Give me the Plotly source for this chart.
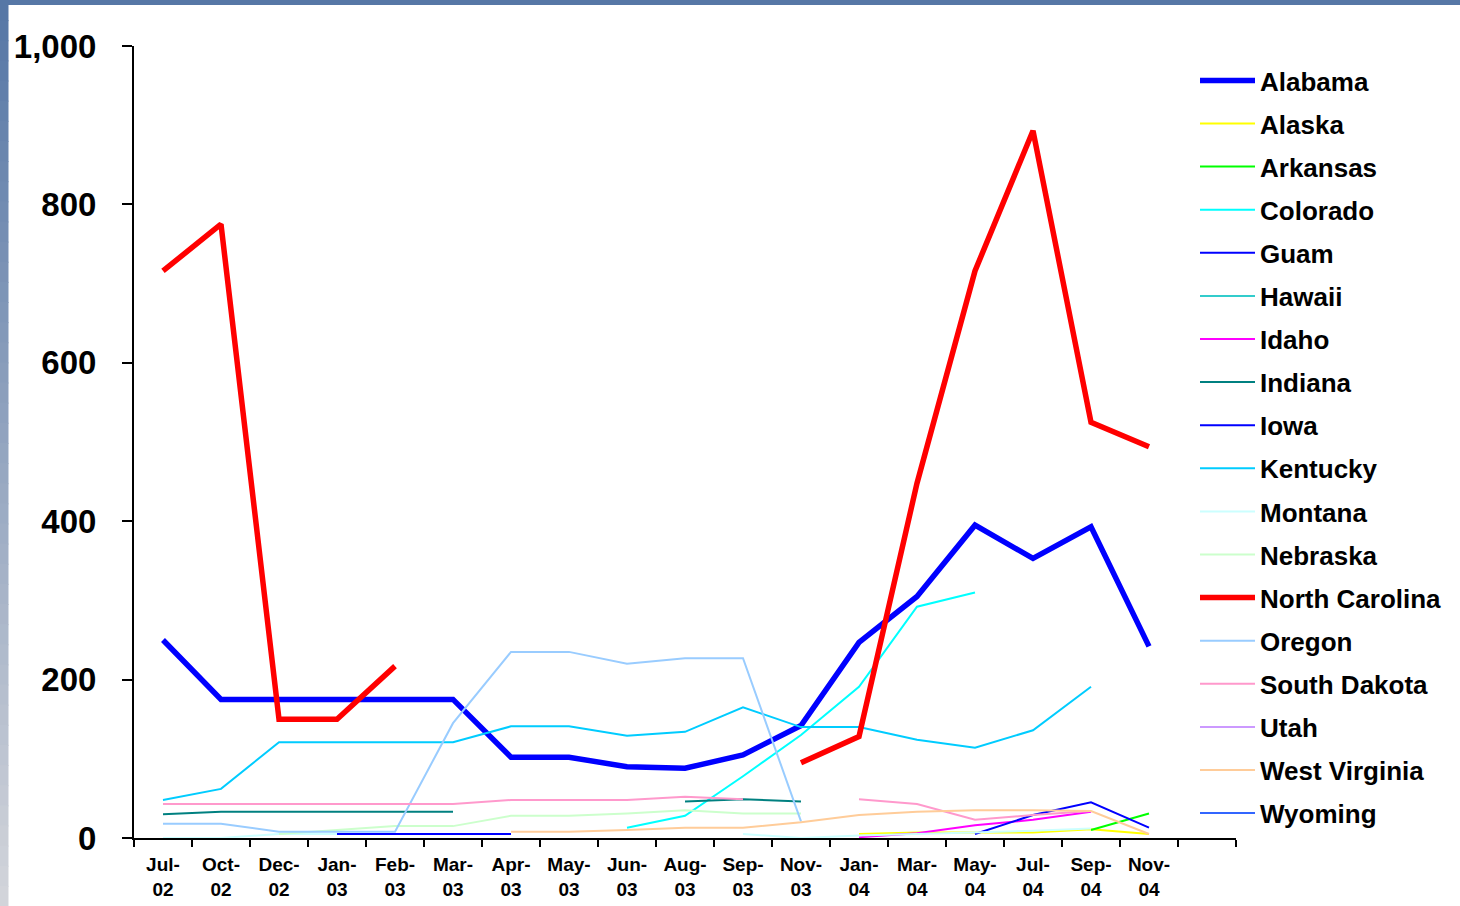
import plotly.graph_objects as go

months = ["Jul-<br>02", "Oct-<br>02", "Dec-<br>02", "Jan-<br>03", "Feb-<br>03", "Mar-<br>03",
          "Apr-<br>03", "May-<br>03", "Jun-<br>03", "Aug-<br>03", "Sep-<br>03", "Nov-<br>03",
          "Jan-<br>04", "Mar-<br>04", "May-<br>04", "Jul-<br>04", "Sep-<br>04", "Nov-<br>04"]
axis_categories = months + [" "]

N = None
alabama = [250, 175, 175, 175, 175, 175, 102, 102, 90, 88, 105, 142, 247, 305, 395, 353, 393, 242]
alaska = [N, N, N, N, N, N, N, N, N, N, N, N, 5, 7, 7, 7, 11, 5]
arkansas = [N, N, N, N, N, N, N, N, N, N, N, N, N, N, N, N, 10, 31]
colorado = [N, N, N, N, N, N, N, N, 13, 28, 78, 130, 191, 292, 310, N, N, N]
guam = [N, N, 5, 5, 5, 5, 5, N, N, N, N, N, N, N, N, N, N, N]
hawaii = [N] * 18
idaho = [N, N, N, N, N, N, N, N, N, N, N, N, 1, 6, 16, 23, 33, N]
indiana = [30, 33, 33, 33, 33, 33, N, N, N, 46, 49, 46, N, N, N, N, N, N]
iowa = [N, N, N, N, N, N, N, N, N, N, N, N, N, N, 5, 29, 45, 13]
kentucky = [48, 62, 121, 121, 121, 121, 141, 141, 129, 134, 165, 140, 140, 124, 114, 136, 191, N]
montana = [0, 0, 5, 5, N, N, N, N, N, N, 5, 0, 3, 5, 7, 9, 12, N]
nebraska = [N, N, 5, 10, 15, 15, 28, 28, 31, 35, 31, 31, N, N, N, N, N, N]
north_carolina = [716, 775, 150, 150, 217, N, N, N, N, N, N, 95, 128, 448, 716, 893, 525, 494]
oregon = [18, 18, 8, 8, 8, 145, 235, 235, 220, 227, 227, 21, N, N, N, N, N, N]
south_dakota = [43, 43, 43, 43, 43, 43, 48, 48, 48, 52, 49, N, 49, 43, 23, 29, 34, N]
utah = [N] * 18
west_virginia = [N, N, N, N, N, N, 8, 8, 10, 13, 13, 20, 29, 33, 35, 35, 34, 5]
wyoming = [N] * 18

series = [
    ("Alabama", alabama, "#0000FF", 5.5),
    ("Alaska", alaska, "#FFFF00", 2),
    ("Arkansas", arkansas, "#00FF00", 2),
    ("Colorado", colorado, "#00FFFF", 2),
    ("Guam", guam, "#0000FF", 2),
    ("Hawaii", hawaii, "#33CCCC", 2),
    ("Idaho", idaho, "#FF00FF", 2),
    ("Indiana", indiana, "#008080", 2),
    ("Iowa", iowa, "#0000FF", 2),
    ("Kentucky", kentucky, "#00CCFF", 2),
    ("Montana", montana, "#CCFFFF", 2),
    ("Nebraska", nebraska, "#CCFFCC", 2),
    ("North Carolina", north_carolina, "#FF0000", 5.5),
    ("Oregon", oregon, "#99CCFF", 2),
    ("South Dakota", south_dakota, "#FF99CC", 2),
    ("Utah", utah, "#CC99FF", 2),
    ("West Virginia", west_virginia, "#FFCC99", 2),
    ("Wyoming", wyoming, "#3366FF", 2),
]

fig = go.Figure()
for name, vals, color, w in series:
    fig.add_trace(go.Scatter(
        x=months, y=vals, name=name, mode="lines",
        line=dict(color=color, width=w),
        connectgaps=False, legendgroup=name,
    ))

W, H = 1460, 906
L, R, T, B = 134, 1236, 46, 838
pw, ph = R - L, B - T

def px(x):
    return (x - L) / pw

def py(y):
    return (B - y) / ph

shapes = []
# top bar
shapes.append(dict(type="rect", xref="paper", yref="paper", x0=px(0), x1=px(W), y0=py(5), y1=py(0),
                   fillcolor="#5677A6", line=dict(width=0), layer="above"))
# left gradient bar
top_c = (0x56, 0x77, 0xA6)
bot_c = (0xD2, 0xD4, 0xDA)
n = 45
for i in range(n):
    t = i / (n - 1)
    c = tuple(int(round(a + (b - a) * t)) for a, b in zip(top_c, bot_c))
    y0 = i * H / n
    y1 = (i + 1) * H / n + 1
    shapes.append(dict(type="rect", xref="paper", yref="paper", x0=px(0), x1=px(8.5),
                       y0=py(min(y1, H)), y1=py(y0),
                       fillcolor="rgb(%d,%d,%d)" % c, line=dict(width=0), layer="above"))

FONT = "Liberation Sans, Arial, sans-serif"

fig.update_layout(
    width=W, height=H,
    margin=dict(l=L, r=W - R, t=T, b=H - B, pad=0),
    paper_bgcolor="white", plot_bgcolor="white",
    font=dict(family=FONT, color="black"),
    showlegend=True,
    legend=dict(
        x=px(1447), y=py(57), xanchor="right", yanchor="top",
        font=dict(size=26, family=FONT, color="black", weight="bold"),
        traceorder="grouped", tracegroupgap=6.3, itemwidth=55,
        bgcolor="rgba(0,0,0,0)", borderwidth=0,
    ),
    xaxis=dict(
        type="category", categoryorder="array", categoryarray=axis_categories,
        range=[-0.5, len(axis_categories) - 0.5], automargin=False,
        showline=True, linecolor="black", linewidth=2,
        ticks="outside", tickson="boundaries", ticklen=7, tickwidth=2, tickcolor="black",
        showgrid=False, zeroline=False, ticklabelstandoff=8,
        tickfont=dict(size=19, family=FONT, color="black", weight="bold"),
        tickangle=0,
    ),
    yaxis=dict(
        range=[0, 1000], tickvals=[0, 200, 400, 600, 800, 1000], tickformat=",",
        automargin=False,
        showline=True, linecolor="black", linewidth=2,
        ticks="outside", ticklen=10, tickwidth=2, tickcolor="black",
        showgrid=False, zeroline=False, ticklabelstandoff=19,
        tickfont=dict(size=33, family=FONT, color="black", weight="bold"),
    ),
    shapes=shapes,
)

fig.write_html("out.html", config={"displayModeBar": False},
               post_script="document.body.style.margin='0';document.body.style.overflow='hidden';")
